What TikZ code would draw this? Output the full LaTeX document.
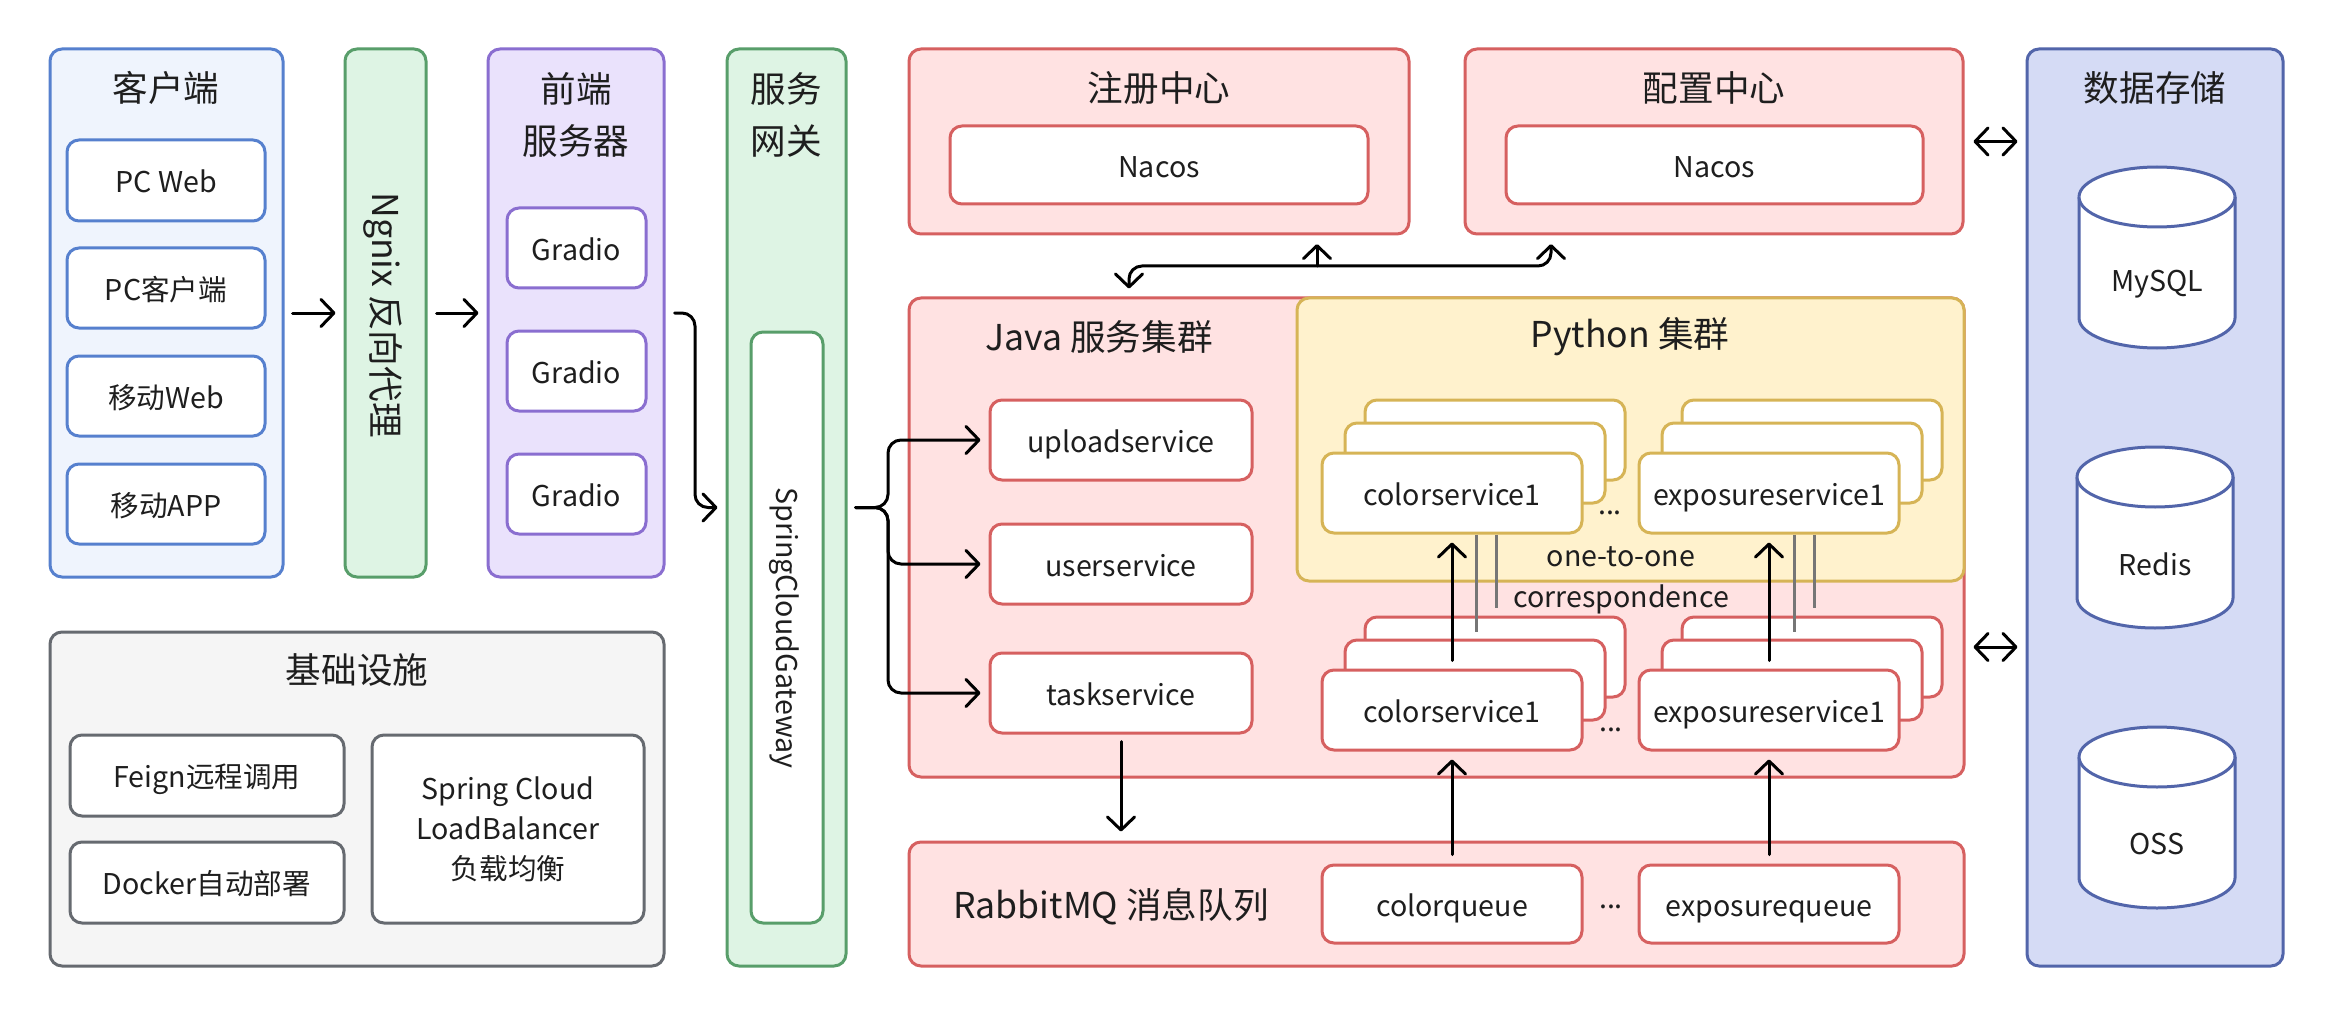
\documentclass[tikz,border=0pt]{standalone}
\usepackage{fontspec}
\setmainfont{Noto Sans CJK SC}
\usetikzlibrary{arrows.meta,calc}
\definecolor{txt}{RGB}{30,30,30}
\definecolor{blS}{RGB}{86,128,206}
\definecolor{blF}{RGB}{239,244,253}
\definecolor{grS}{RGB}{88,158,106}
\definecolor{grF}{RGB}{222,244,228}
\definecolor{puS}{RGB}{138,110,208}
\definecolor{puF}{RGB}{234,226,252}
\definecolor{reS}{RGB}{214,96,96}
\definecolor{reF}{RGB}{255,226,226}
\definecolor{yeS}{RGB}{214,180,86}
\definecolor{yeF}{RGB}{255,242,205}
\definecolor{dsS}{RGB}{82,101,170}
\definecolor{dsF}{RGB}{213,219,245}
\definecolor{gyS}{RGB}{102,106,112}
\definecolor{gyF}{RGB}{245,245,245}
\definecolor{lnk}{RGB}{118,118,118}
\newcommand\innerfont{\fontsize{14.3}{20}\selectfont}
\newcommand\titlefont{\fontsize{17.8}{26}\selectfont}
\newcommand\bx[7]{\node[#6,minimum width={(#4-#2)*0.5pt},minimum height={(#5-#3)*0.5pt}] (#1) at ({(#2+#4)/2},{(#3+#5)/2}) {#7};}
\newcommand\cyl[5]{%
  \draw[cylst] ({#2-78},{#3+30}) -- ({#2-78},{#4-30}) arc[start angle=180,end angle=360,x radius=39pt,y radius=15pt] -- ({#2+78},{#3+30}) arc[start angle=0,end angle=180,x radius=39pt,y radius=15pt] -- cycle;
  \draw[cylst] ({#2-78},{#3+30}) arc[start angle=180,end angle=360,x radius=39pt,y radius=15pt];
  \node[lbl] (#1) at (#2,{(#3+60+#4)/2-3}) {#5};}
\tikzset{
  one/.style={text height=13.2pt, text depth=0.8pt},
  base/.style={draw, line width=1.5pt, rounded corners=6pt, inner sep=0pt, text=txt, font=\innerfont, align=center},
  blueout/.style={base, draw=blS, fill=blF},
  bluein/.style={base, one, draw=blS, fill=white},
  greenout/.style={base, draw=grS, fill=grF},
  greenin/.style={base, draw=grS, fill=white},
  purpout/.style={base, draw=puS, fill=puF},
  purpin/.style={base, one, draw=puS, fill=white},
  redout/.style={base, draw=reS, fill=reF},
  redin/.style={base, one, draw=reS, fill=white},
  yelout/.style={base, draw=yeS, fill=yeF},
  yelin/.style={base, one, draw=yeS, fill=white},
  dsout/.style={base, draw=dsS, fill=dsF},
  grayout/.style={base, draw=gyS, fill=gyF},
  grayinm/.style={base, draw=gyS, fill=white},
  grayin/.style={grayinm, one},
  cylst/.style={draw=dsS, fill=white, line width=1.5pt},
  ttl/.style={text=txt, font=\titlefont, align=center, inner sep=0pt},
  lbl/.style={text=txt, font=\innerfont, align=center, inner sep=0pt},
  arr/.style={draw=black, line width=1.5pt, line cap=round, rounded corners=6.5pt, -{Straight Barb[round,length=6.5pt,width=13.5pt]}},
  dblarr/.style={arr, {Straight Barb[round,length=6.5pt,width=13.5pt]}-{Straight Barb[round,length=6.5pt,width=13.5pt]}},
  lnkln/.style={draw=lnk, line width=1.5pt},
}
\begin{document}
\begin{tikzpicture}[x=0.5pt,y=-0.5pt]
\useasboundingbox (0,0) rectangle (2334,1016);
\fill[white] (0,0) rectangle (2334,1016);
% client column
\bx{client}{50}{49}{283}{577}{blueout}{}
\node[ttl] (tclient) at (166,88) {客户端};
\bx{pcweb}{67}{140}{265}{221}{bluein}{PC Web}
\bx{pccl}{67}{248}{265}{328}{bluein}{PC客户端}
\bx{mweb}{67}{356}{265}{436}{bluein}{移动Web}
\bx{mapp}{67}{464}{265}{544}{bluein}{移动APP}
% nginx
\bx{nginx}{345}{49}{426}{577}{greenout}{}
\node[ttl,rotate=-90] (tnginx) at (383,315) {Ngnix 反向代理};
% front
\bx{front}{488}{49}{664}{577}{purpout}{}
\node[ttl] (tfront) at (576,115) {前端\\服务器};
\bx{g1}{507}{208}{646}{288}{purpin}{Gradio}
\bx{g2}{507}{331}{646}{411}{purpin}{Gradio}
\bx{g3}{507}{454}{646}{534}{purpin}{Gradio}
% gateway
\bx{gw}{727}{49}{846}{966}{greenout}{}
\node[ttl] (tgw) at (786,115) {服务\\网关};
\bx{gwin}{751}{332}{823}{923}{greenin}{}
\node[lbl,rotate=-90] (tgwin) at (784,628) {SpringCloudGateway};
% infra
\bx{infra}{50}{632}{664}{966}{grayout}{}
\node[ttl] (tinfra) at (357,670) {基础设施};
\bx{feign}{70}{735}{344}{816}{grayin}{Feign远程调用}
\bx{docker}{70}{842}{344}{923}{grayin}{Docker自动部署}
\bx{lb}{372}{735}{644}{923}{grayinm}{Spring Cloud\\LoadBalancer\\负载均衡}
% registry / config
\bx{reg}{909}{49}{1409}{234}{redout}{}
\node[ttl] (treg) at (1159,88) {注册中心};
\bx{regn}{950}{126}{1368}{204}{redin}{Nacos}
\bx{cfg}{1465}{49}{1963}{234}{redout}{}
\node[ttl] (tcfg) at (1714,88) {配置中心};
\bx{cfgn}{1506}{126}{1923}{204}{redin}{Nacos}
% data storage
\bx{ds}{2027}{49}{2283}{966}{dsout}{}
\node[ttl] (tds) at (2155,88) {数据存储};
\cyl{mysql}{2157}{167}{348}{MySQL}
\cyl{redis}{2155}{447}{628}{Redis}
\cyl{oss}{2157}{727}{908}{OSS}
% java cluster
\bx{java}{909}{298}{1964}{777}{redout}{}
\node[ttl] (tjava) at (1099,337) {Java 服务集群};
\bx{py}{1297}{298}{1964}{581}{yelout}{}
\node[ttl] (tpy) at (1630,337) {Python 集群};
\bx{upload}{990}{400}{1252}{480}{redin}{uploadservice}
\bx{user}{990}{524}{1252}{604}{redin}{userservice}
\bx{task}{990}{653}{1252}{733}{redin}{taskservice}
% python stacks
\bx{csTc}{1365}{400}{1625}{480}{yelin}{}
\bx{csTb}{1345}{423}{1605}{503}{yelin}{}
\bx{csT}{1322}{453}{1582}{533}{yelin}{colorservice1}
\bx{esTc}{1682}{400}{1942}{480}{yelin}{}
\bx{esTb}{1662}{423}{1922}{503}{yelin}{}
\bx{esT}{1639}{453}{1899}{533}{yelin}{exposureservice1}
\node[lbl] (dots1) at (1610,513) {...};
% java-side stacks
\bx{csBc}{1365}{617}{1625}{697}{redin}{}
\bx{csBb}{1345}{640}{1605}{720}{redin}{}
\bx{csB}{1322}{670}{1582}{750}{redin}{colorservice1}
\bx{esBc}{1682}{617}{1942}{697}{redin}{}
\bx{esBb}{1662}{640}{1922}{720}{redin}{}
\bx{esB}{1639}{670}{1899}{750}{redin}{exposureservice1}
\node[lbl] (dots2) at (1611,730) {...};
% mq
\bx{mq}{909}{842}{1964}{966}{redout}{}
\node[ttl] (tmq) at (1111,907) {RabbitMQ 消息队列};
\bx{cq}{1322}{865}{1582}{943}{redin}{colorqueue}
\bx{eq}{1639}{865}{1899}{943}{redin}{exposurequeue}
\node[lbl] (dots3) at (1611,907) {...};
% one-to-one lines
\coordinate (l1) at (1476,632);
\coordinate (l2) at (1496,608);
\coordinate (l3) at (1794,632);
\coordinate (l4) at (1814,608);
\draw[lnkln] (csT.south -| l1) -- (l1);
\draw[lnkln] (csT.south -| l2) -- (l2);
\draw[lnkln] (esT.south -| l3) -- (l3);
\draw[lnkln] (esT.south -| l4) -- (l4);
\node[lbl] (o2o) at (1621,580) {one-to-one\\[0.5pt]correspondence};
% connectors
\draw[arr, shorten <=4pt, shorten >=4pt] (client.east) -- (nginx.west);
\draw[arr, shorten <=4.5pt, shorten >=4pt] (nginx.east) -- (front.west);
\coordinate (j1) at (695,0);
\draw[arr, shorten <=4.5pt, shorten >=4pt] (front.east) -- (front.east -| j1) -- (j1 |- gw.west) -- (gw.west);
\coordinate (j2) at (888,0);
\foreach \t in {upload,user,task}
  \draw[arr, shorten <=4pt, shorten >=4pt] (gw.east) -- (gw.east -| j2) -- (j2 |- \t.west) -- (\t.west);
\coordinate (jx) at (1129,0);
\coordinate (hj) at (1317,266);
\coordinate (cx) at (1551,0);
\draw[dblarr, shorten <=4pt, shorten >=4.3pt] (java.north -| jx) -- (jx |- hj) -- (cx |- hj) -- (cfg.south -| cx);
\draw[arr, shorten >=4.3pt] (hj) -- (reg.south -| hj);
\draw[dblarr, shorten <=4.5pt, shorten >=4pt] (cfg.east) -- (cfg.east -| ds.west);
\coordinate (da) at (0,647);
\draw[dblarr, shorten <=4pt, shorten >=4pt] (java.east |- da) -- (ds.west |- da);
\draw[arr, shorten <=3.5pt, shorten >=4.5pt] (task.south) -- (task.south |- mq.north);
\draw[arr, shorten <=4.5pt, shorten >=4pt] (cq.north) -- (csB.south);
\draw[arr, shorten <=4.5pt, shorten >=4pt] (eq.north) -- (esB.south);
\draw[arr, shorten <=4pt, shorten >=4pt] (csB.north) -- (csT.south);
\draw[arr, shorten <=4pt, shorten >=4pt] (esB.north) -- (esT.south);
\end{tikzpicture}
\end{document}
